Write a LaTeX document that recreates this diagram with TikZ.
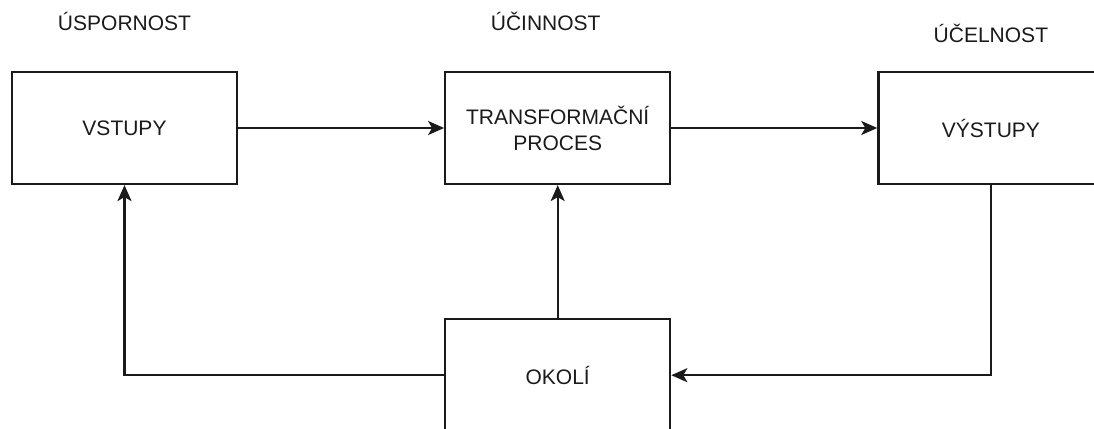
\documentclass[tikz,border=0pt]{standalone}
\usepackage{fontspec}
\setmainfont{Liberation Sans}
\usepackage{tikz}
\usetikzlibrary{
  arrows.meta,
  positioning
}
\definecolor{ink}{HTML}{1A1A1A}
\tikzset{
  block/.style={
    draw=ink,
    line width=2.2pt,
    minimum height=112pt,
    minimum width=225pt,
    align=center,
    text=ink,
    font=\fontsize{21}{26}\selectfont
  },
  heading/.style={
    inner sep=0pt,
    outer sep=0pt,
    text=ink,
    font=\fontsize{21}{26}\selectfont
  },
  arrow/.style={-{Stealth[length=16pt, width=14pt, inset=4pt]}, line width=2.2pt, draw=ink}
}

\begin{document}
\begin{tikzpicture}[x=1pt, y=-1pt, node distance=206pt]
  \useasboundingbox (0,0) rectangle (1094,428);

  \node[block] (vstupy) at (124.5,128) {VSTUPY};
  \node[block, right=of vstupy] (proces) {TRANSFORMAČNÍ\\PROCES};
  \node[block, right=of proces] (vystupy) {VÝSTUPY};
  \node[block, below=133pt of proces] (okoli) {OKOLÍ};

  \node[heading, above=40pt of vstupy] (usp) {ÚSPORNOST};
  \node[heading, above=40pt of proces, xshift=-12pt] (ucin) {ÚČINNOST};
  \node[heading, above=28pt of vystupy] (ucel) {ÚČELNOST};

  \draw[arrow] (vstupy) -- (proces);
  \draw[arrow] (proces) -- (vystupy);
  \draw[arrow] (okoli) -- (proces);
  \draw[arrow] (okoli.west) -| (vstupy.south);
  \draw[arrow] (vystupy.south) |- (okoli.east);
\end{tikzpicture}
\end{document}
